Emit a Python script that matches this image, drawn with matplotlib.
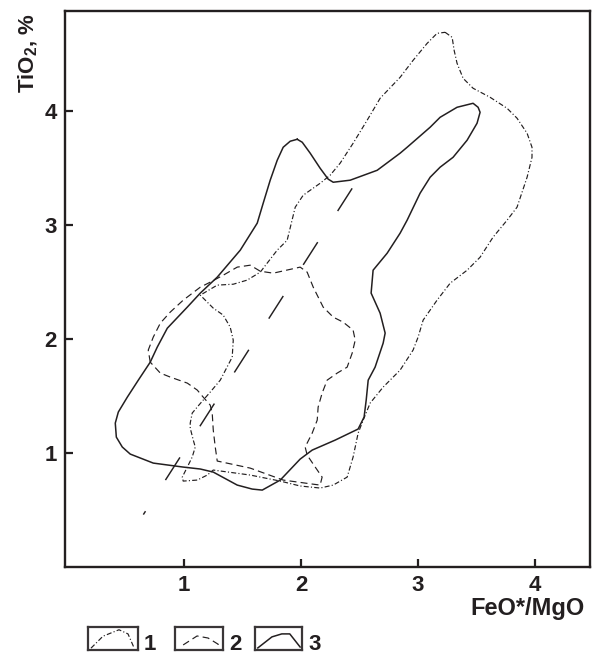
import matplotlib
matplotlib.use("Agg")
import matplotlib.pyplot as plt
import numpy as np

plt.rcParams['font.family'] = ['Liberation Sans', 'DejaVu Sans']
plt.rcParams['mathtext.fontset'] = 'custom'
plt.rcParams['mathtext.rm'] = 'Liberation Sans'
plt.rcParams['mathtext.bf'] = 'Liberation Sans:bold'
plt.rcParams['lines.scale_dashes'] = False

INK = '#231f20'

# Field 1 (dash-dot outline): FeO*/MgO, TiO2
field1_x = [3.231, 3.291, 3.308, 3.333, 3.385, 3.470, 3.615, 3.761, 3.846, 3.932,
            3.974, 3.974, 3.932, 3.846, 3.761, 3.641, 3.530, 3.419, 3.274, 3.162,
            3.043, 3.000, 2.957, 2.846, 2.701, 2.590, 2.530, 2.487, 2.444, 2.393,
            2.274, 2.162, 1.991, 1.821, 1.564, 1.248, 1.197, 1.111, 0.991, 0.983,
            1.026, 1.068, 1.094, 1.077, 1.051, 1.051, 1.068, 1.111, 1.162, 1.222,
            1.308, 1.410, 1.419, 1.393, 1.333, 1.248, 1.137, 1.282, 1.419, 1.538,
            1.650, 1.709, 1.795, 1.880, 1.949, 2.017, 2.162, 2.248, 2.333, 2.444,
            2.564, 2.650, 2.675, 2.846, 2.957, 3.077, 3.162, 3.231]
field1_y = [4.693, 4.649, 4.535, 4.421, 4.289, 4.202, 4.123, 4.026, 3.939, 3.807,
            3.684, 3.596, 3.421, 3.158, 3.044, 2.895, 2.719, 2.605, 2.491, 2.342,
            2.167, 2.018, 1.904, 1.728, 1.579, 1.439, 1.289, 1.175, 0.965, 0.789,
            0.719, 0.693, 0.711, 0.754, 0.807, 0.851, 0.807, 0.763, 0.754, 0.789,
            0.877, 0.965, 1.053, 1.114, 1.219, 1.263, 1.351, 1.404, 1.465, 1.535,
            1.640, 1.842, 1.991, 2.105, 2.211, 2.272, 2.386, 2.474, 2.482, 2.518,
            2.588, 2.667, 2.781, 2.868, 3.158, 3.263, 3.368, 3.439, 3.544, 3.719,
            3.921, 4.070, 4.114, 4.298, 4.447, 4.596, 4.684, 4.693]

# Field 2 (dashed outline)
field2_x = [0.709, 0.692, 0.735, 0.795, 0.880, 0.991, 1.137, 1.222, 1.333, 1.453,
            1.564, 1.650, 1.761, 1.991, 2.051, 2.103, 2.188, 2.274, 2.359, 2.444,
            2.462, 2.436, 2.393, 2.308, 2.222, 2.179, 2.145, 2.137, 2.094, 2.034,
            2.051, 2.120, 2.179, 2.162, 2.094, 1.846, 1.564, 1.282, 1.265, 1.248,
            1.239, 1.222, 1.162, 1.111, 1.026, 0.880, 0.795, 0.709]
field2_y = [1.798, 1.904, 2.018, 2.140, 2.237, 2.342, 2.456, 2.500, 2.561, 2.632,
            2.649, 2.596, 2.579, 2.632, 2.588, 2.456, 2.281, 2.193, 2.149, 2.079,
            1.991, 1.877, 1.754, 1.702, 1.640, 1.526, 1.404, 1.289, 1.175, 1.053,
            0.982, 0.877, 0.789, 0.719, 0.728, 0.763, 0.868, 0.930, 1.053, 1.202,
            1.351, 1.421, 1.491, 1.553, 1.614, 1.667, 1.702, 1.798]

# Field 3 (solid outline)
field3_x = [1.966, 2.009, 2.077, 2.162, 2.231, 2.274, 2.419, 2.650, 2.846, 2.906,
            3.103, 3.188, 3.333, 3.470, 3.513, 3.530, 3.504, 3.419, 3.299, 3.188,
            3.103, 3.017, 2.906, 2.846, 2.735, 2.615, 2.598, 2.675, 2.718, 2.701,
            2.632, 2.573, 2.556, 2.538, 2.487, 2.291, 2.094, 1.991, 1.821, 1.667,
            1.581, 1.453, 1.248, 1.137, 0.991, 0.735, 0.538, 0.470, 0.419, 0.410,
            0.436, 0.513, 0.607, 0.709, 0.769, 0.855, 1.026, 1.137, 1.282, 1.479,
            1.624, 1.675, 1.735, 1.795, 1.846, 1.906, 1.966]
field3_y = [3.754, 3.728, 3.632, 3.500, 3.404, 3.377, 3.395, 3.482, 3.632, 3.684,
            3.860, 3.947, 4.035, 4.070, 4.035, 3.991, 3.895, 3.746, 3.596, 3.509,
            3.421, 3.281, 3.044, 2.930, 2.754, 2.605, 2.404, 2.228, 2.053, 1.965,
            1.754, 1.640, 1.465, 1.316, 1.211, 1.114, 1.026, 0.947, 0.763, 0.675,
            0.684, 0.719, 0.833, 0.860, 0.877, 0.912, 0.991, 1.053, 1.140, 1.263,
            1.360, 1.491, 1.640, 1.798, 1.930, 2.096, 2.281, 2.404, 2.544, 2.781,
            3.018, 3.193, 3.395, 3.570, 3.684, 3.737, 3.754]

# Trend line
trend_x = [0.65, 2.44]
trend_y = [0.46, 3.33]

x_ticks = [1, 2, 3, 4]
y_ticks = [1, 2, 3, 4]
legend_labels = ['1', '2', '3']

W, H = 603, 655
fig = plt.figure(figsize=(W / 100, H / 100), dpi=100)
ax = fig.add_axes([65 / W, 1 - 567 / H, (590 - 65) / W, (567 - 11) / H])

style1 = dict(color=INK, lw=0.85, linestyle=(0, (3.6, 1.6, 0.8, 1.6)))
style2 = dict(color=INK, lw=0.85, linestyle=(0, (5.0, 3.0)))
style3 = dict(color=INK, lw=1.1, linestyle='-')

ax.plot(field1_x, field1_y, **style1)
ax.plot(field2_x, field2_y, **style2)
ax.plot(field3_x, field3_y, **style3)
ax.plot(trend_x, trend_y, color=INK, lw=1.05, linestyle=(16.5, (19.4, 26.6)))

ax.set_xlim(-0.02, 4.47)
ax.set_ylim(0, 4.88)
ax.set_xticks(x_ticks)
ax.set_yticks(y_ticks)
ax.set_xticklabels([str(v) for v in x_ticks])
ax.set_yticklabels([str(v) for v in y_ticks])
ax.tick_params(direction='in', length=6, width=1.6, color=INK, labelsize=16,
               labelcolor=INK, pad=6, top=False, right=False)
for lab in ax.get_xticklabels() + ax.get_yticklabels():
    lab.set_fontweight('bold')
for sp in ax.spines.values():
    sp.set_linewidth(1.7)
    sp.set_color(INK)

fig.text(28 / W, 1 - 13 / H, r'TiO$_{\mathbf{2}}$, %', rotation=90, ha='center',
         va='top', fontsize=16, fontweight='bold', color=INK)
fig.text(585 / W, 1 - 615 / H, 'FeO*/MgO', ha='right', va='baseline',
         fontsize=17, fontweight='bold', color=INK)

# Legend: small framed swatches with a sample outline in each
swatches = [
    (88, 138, style1, [0.06, 0.3, 0.62, 0.8, 0.92], [0.08, 0.6, 0.88, 0.7, 0.1]),
    (175, 223, style2, [0.17, 0.46, 0.69, 0.9, 0.9], [0.22, 0.61, 0.52, 0.25, 0.0]),
    (255, 302, style3, [0.06, 0.36, 0.57, 0.74, 0.96], [0.09, 0.57, 0.70, 0.70, 0.13]),
]
for (x0, x1, st, sx, sy), lab in zip(swatches, legend_labels):
    lax = fig.add_axes([x0 / W, 1 - 650 / H, (x1 - x0) / W, 23 / H])
    lax.plot(sx, sy, **st)
    lax.set_xlim(0, 1)
    lax.set_ylim(0, 1)
    lax.set_xticks([])
    lax.set_yticks([])
    for sp in lax.spines.values():
        sp.set_linewidth(1.6)
        sp.set_color('#3a3637')
    fig.text((x1 + 6) / W, 1 - 650 / H, lab, ha='left', va='baseline',
             fontsize=16, fontweight='bold', color=INK)

fig.savefig('out.png', dpi=100)
